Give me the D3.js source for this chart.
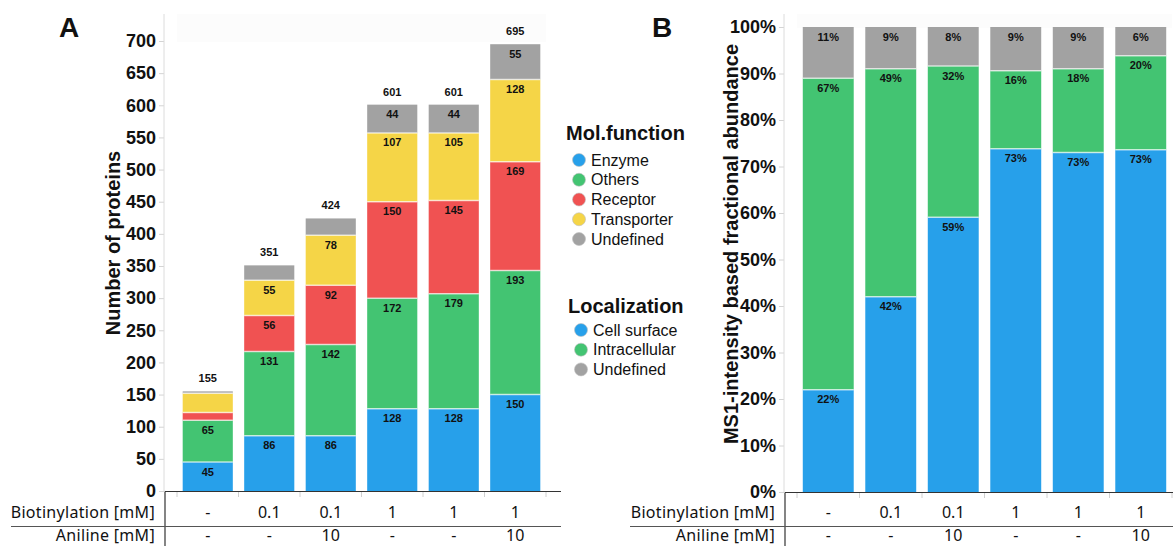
<!DOCTYPE html>
<html>
<head>
<meta charset="utf-8">
<script src="https://cdn.jsdelivr.net/npm/d3@7"></script>
<style>
  html, body { margin: 0; padding: 0; background: #fff; }
  svg { display: block; font-family: "Liberation Sans", Arial, sans-serif; }
  .row-label, .row-value { font-family: "Noto Sans", "Open Sans", sans-serif; font-size: 16px; fill: #111; }
</style>
</head>
<body>
<svg id="chart" width="1173" height="546"></svg>
<script>
// Sample conditions (one bar per condition)
const samples = ["S1", "S2", "S3", "S4", "S5", "S6"];
const biotinylation = ["-", "0.1", "0.1", "1", "1", "1"];
const aniline = ["-", "-", "10", "-", "-", "10"];

// Panel A: number of proteins by molecular function
const enzyme      = [45, 86, 86, 128, 128, 150];
const others      = [65, 131, 142, 172, 179, 193];
const receptor    = [12, 56, 92, 150, 145, 169];
const transporter = [30, 55, 78, 107, 105, 128];
const undefinedFn = [3, 23, 26, 44, 44, 55];
const countTicks  = [0, 50, 100, 150, 200, 250, 300, 350, 400, 450, 500, 550, 600, 650, 700];

// Panel B: MS1-intensity based fractional abundance (%) by localization
const cellSurface   = [22, 42, 59.1, 73.8, 73, 73.6];
const intracellular = [67, 49, 32.5, 16.8, 18, 20.2];
const undefinedLoc  = [11, 9, 8.4, 9.4, 9, 6.2];
const percentTicks  = [0, 10, 20, 30, 40, 50, 60, 70, 80, 90, 100];

const colors = {
  blue: "#27a0ea", green: "#43c472", red: "#f05252", yellow: "#f5d547", gray: "#a2a2a2"
};

const seriesA = [
  { name: "Enzyme", values: enzyme, color: colors.blue },
  { name: "Others", values: others, color: colors.green },
  { name: "Receptor", values: receptor, color: colors.red },
  { name: "Transporter", values: transporter, color: colors.yellow },
  { name: "Undefined", values: undefinedFn, color: colors.gray }
];
const seriesB = [
  { name: "Cell surface", values: cellSurface, color: colors.blue },
  { name: "Intracellular", values: intracellular, color: colors.green },
  { name: "Undefined", values: undefinedLoc, color: colors.gray }
];

const svg = d3.select("#chart");

function rows(series) {
  return samples.map((s, i) => {
    const r = { sample: s };
    series.forEach(se => { r[se.name] = se.values[i]; });
    return r;
  });
}

function drawPanel(opts) {
  const g = svg.append("g");
  const x = d3.scaleBand().domain(samples).range(opts.xRange).paddingInner(0.185).paddingOuter(0.0925);
  const y = d3.scaleLinear().domain(opts.yDomain).range(opts.yRange);

  // faint header band above the plot
  g.append("rect").attr("x", opts.xRange[0]).attr("y", 14)
    .attr("width", opts.xRange[1] - opts.xRange[0]).attr("height", opts.headerH)
    .attr("fill", "#fcfcfc");

  // y axis
  const yAxis = d3.axisLeft(y).tickValues(opts.ticks).tickSize(5).tickPadding(3).tickFormat(opts.tickFormat);
  const ay = g.append("g").attr("transform", `translate(${opts.axisX},0)`).call(yAxis);
  ay.select(".domain").remove();
  ay.selectAll(".tick line").attr("stroke", "#d4d4d4");
  ay.selectAll(".tick text").attr("font-size", 18).attr("font-weight", "bold").attr("fill", "#111")
    .attr("font-family", "'Liberation Sans', Arial, sans-serif");
  g.append("line").attr("x1", opts.axisX).attr("x2", opts.axisX)
    .attr("y1", 14).attr("y2", opts.yRange[0]).attr("stroke", "#dcdcdc");

  // axis title
  g.append("text")
    .attr("transform", `translate(${opts.titleX},${opts.titleY}) rotate(-90)`)
    .attr("text-anchor", "middle").attr("font-size", 20).attr("font-weight", "bold").attr("fill", "#111")
    .text(opts.title);

  // stacked bars
  const keys = opts.series.map(s => s.name);
  const stacked = d3.stack().keys(keys)(rows(opts.series));
  stacked.forEach((layer, li) => {
    const color = opts.series[li].color;
    g.append("g").selectAll("rect").data(layer).join("rect")
      .attr("x", d => x(d.data.sample))
      .attr("width", x.bandwidth())
      .attr("y", d => y(d[1]))
      .attr("height", d => y(d[0]) - y(d[1]))
      .attr("fill", color);
  });
  // light separators between segments
  stacked.forEach((layer, li) => {
    if (li === 0) return;
    g.append("g").selectAll("line").data(layer).join("line")
      .attr("x1", d => x(d.data.sample)).attr("x2", d => x(d.data.sample) + x.bandwidth())
      .attr("y1", d => y(d[0])).attr("y2", d => y(d[0]))
      .attr("stroke", "#fff").attr("stroke-opacity", 0.65).attr("stroke-width", 1.5);
  });
  // segment value labels
  stacked.forEach((layer) => {
    g.append("g").selectAll("text").data(layer.filter(d => opts.showLabel(d[1] - d[0]))).join("text")
      .attr("x", d => x(d.data.sample) + x.bandwidth() / 2)
      .attr("y", d => y(d[1]) + 13.5)
      .attr("text-anchor", "middle").attr("font-size", 11).attr("font-weight", "bold").attr("fill", "#111")
      .text(d => opts.labelFormat(d[1] - d[0]));
  });
  if (opts.totals) {
    const top = stacked[stacked.length - 1];
    g.append("g").selectAll("text").data(top).join("text")
      .attr("x", d => x(d.data.sample) + x.bandwidth() / 2)
      .attr("y", d => y(d[1]) - 9)
      .attr("text-anchor", "middle").attr("font-size", 11).attr("font-weight", "bold").attr("fill", "#111")
      .text(d => d3.sum(opts.series, s => s.values[samples.indexOf(d.data.sample)]));
  }

  // bottom ticks at band boundaries
  const step = x.step();
  const bounds = d3.range(samples.length + 1).map(i => opts.xRange[0] + i * step);
  g.append("g").selectAll("line").data(bounds).join("line")
    .attr("x1", d => d).attr("x2", d => d).attr("y1", opts.yRange[0] + 1).attr("y2", opts.yRange[0] + 6)
    .attr("stroke", "#d0d0d0");

  // condition table
  const base = opts.yRange[0] + 0.5;
  g.append("line").attr("x1", opts.tableX).attr("x2", opts.tableRight).attr("y1", base).attr("y2", base)
    .attr("stroke", "#333").attr("stroke-width", 1.2);
  g.append("line").attr("x1", opts.tableX).attr("x2", opts.tableX).attr("y1", base).attr("y2", 546)
    .attr("stroke", "#333").attr("stroke-width", 1.2);
  g.append("line").attr("x1", opts.sepLeft).attr("x2", opts.tableRight).attr("y1", 526.5).attr("y2", 526.5)
    .attr("stroke", "#555").attr("stroke-width", 1.2);

  const tableRows = [
    { label: "Biotinylation [mM]", values: biotinylation, y: 518 },
    { label: "Aniline [mM]", values: aniline, y: 541 }
  ];
  tableRows.forEach(r => {
    g.append("text").attr("class", "row-label").attr("x", opts.tableX - 10).attr("y", r.y)
      .attr("text-anchor", "end").attr("letter-spacing", 0.3).text(r.label);
    g.append("g").selectAll("text").data(samples).join("text").attr("class", "row-value")
      .attr("x", s => x(s) + x.bandwidth() / 2).attr("y", r.y).attr("text-anchor", "middle")
      .text((s, i) => r.values[i]);
  });

  // panel letter
  g.append("text").attr("x", opts.letterX).attr("y", 37).attr("font-size", 28).attr("font-weight", "bold")
    .attr("fill", "#111").text(opts.letter);
}

drawPanel({
  letter: "A", letterX: 59,
  series: seriesA, xRange: [177, 546], yDomain: [0, 700], yRange: [491, 41],
  ticks: countTicks, tickFormat: d => d, axisX: 164, headerH: 28,
  title: "Number of proteins", titleX: 120, titleY: 243,
  showLabel: v => v >= 40, labelFormat: v => v, totals: true,
  tableX: 165, tableRight: 561, sepLeft: 11
});

drawPanel({
  letter: "B", letterX: 652,
  series: seriesB, xRange: [797, 1172], yDomain: [0, 100], yRange: [492, 27],
  ticks: percentTicks, tickFormat: d => d + "%", axisX: 784, headerH: 14,
  title: "MS1-intensity based fractional abundance", titleX: 738, titleY: 244,
  showLabel: () => true, labelFormat: v => Math.floor(v + 1e-9) + "%", totals: false,
  tableX: 785, tableRight: 1173, sepLeft: 630
});

// legends
function legend(title, items, x0, titleY, cx, firstY, gap) {
  const g = svg.append("g");
  g.append("text").attr("x", x0).attr("y", titleY).attr("font-size", 20).attr("font-weight", "bold")
    .attr("fill", "#111").text(title);
  const it = g.selectAll("g.item").data(items).join("g").attr("class", "item")
    .attr("transform", (d, i) => `translate(${cx},${firstY + i * gap})`);
  it.append("circle").attr("r", 6.5).attr("fill", d => d.color).attr("stroke", "#bdbdbd").attr("stroke-width", 0.6);
  it.append("text").attr("x", 12).attr("y", 5.6).attr("font-size", 16).attr("fill", "#111").text(d => d.name);
}
legend("Mol.function", seriesA, 566, 140, 579, 160, 19.75);
legend("Localization", seriesB, 568, 313, 581, 330, 19.7);
</script>
</body>
</html>
